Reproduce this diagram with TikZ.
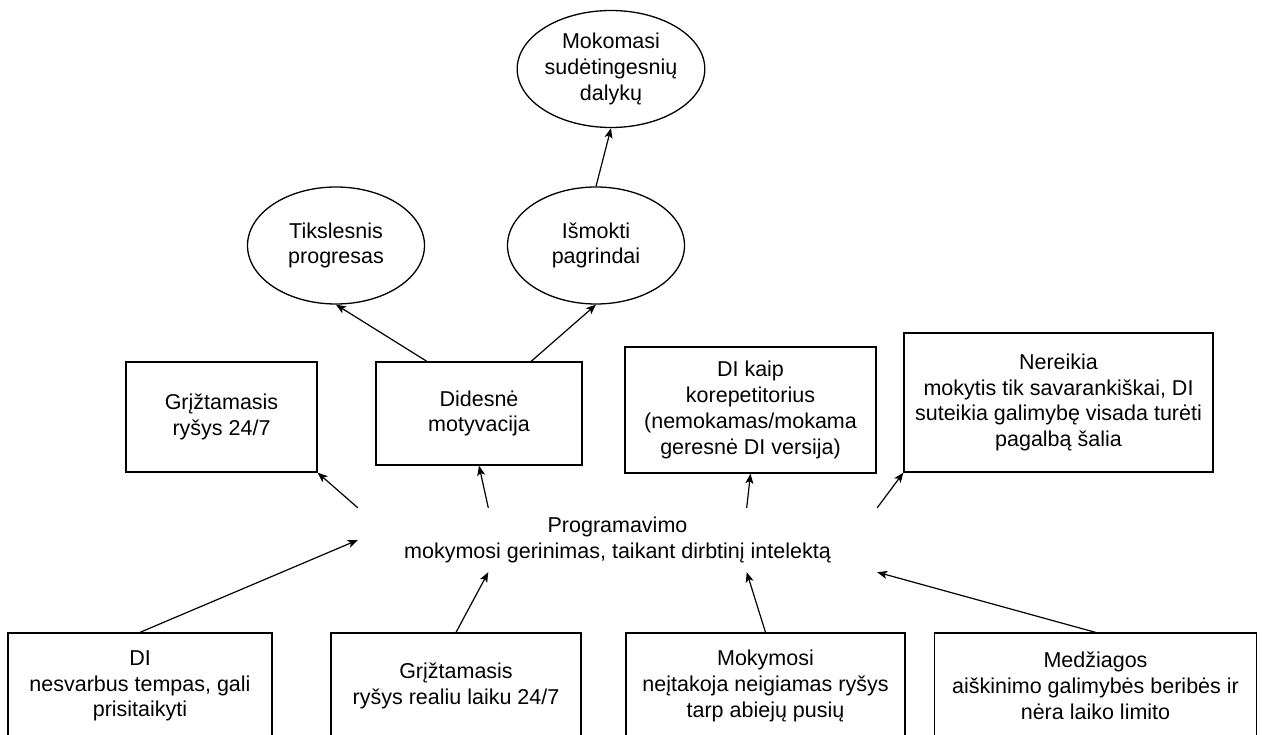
\documentclass[tikz,border=0pt]{standalone}
\usepackage{fontspec}
\setmainfont{Liberation Sans}
\usetikzlibrary{arrows.meta,shapes.geometric}

\begin{document}
\begin{tikzpicture}[x=1pt, y=-1pt,
	txt/.style  = {font=\fontsize{21.5}{25.8}\selectfont, align=center, inner sep=0pt},
	rec/.style  = {txt, draw, rectangle, line width=1.3pt},
	ell/.style  = {txt, draw, ellipse, line width=1.3pt, minimum width=177pt, minimum height=117pt},
	hub/.style  = {txt, rectangle, minimum width=519pt, minimum height=64pt},
	link/.style = {->, line width=1.2pt},
	>={Stealth[length=10pt, width=8pt, inset=2.5pt]}]

	\useasboundingbox (0,0) rectangle (1262,735);

	% goals on top, ellipses
	\node[ell] (adv) at (611,69) {Mokomasi\\sudėtingesnių\\dalykų};
	\node[ell] (prog) at (336,245.5) {Tikslesnis\\progresas};
	\node[ell] (basics) at (596,245.5) {Išmokti\\pagrindai};

	% benefits, upper row
	\node[rec, minimum width=191pt, minimum height=110pt] (fb) at (221.5,417) {Grįžtamasis\\ryšys 24/7};
	\node[rec, minimum width=206pt, minimum height=103pt] (mot) at (479,413.5) {Didesnė\\motyvacija};
	\node[rec, minimum width=251pt, minimum height=126pt] (tutor) at (750.5,410) {DI kaip\\korepetitorius\\(nemokamas/mokama\\geresnė DI versija)};
	\node[rec, minimum width=309pt, minimum height=139pt] (help) at (1058.5,402.5) {Nereikia\\mokytis tik savarankiškai, DI\\suteikia galimybę visada turėti\\pagalbą šalia};

	% the central topic
	\node[hub] (hub) at (617.5,540) {Programavimo\\mokymosi gerinimas, taikant dirbtinį intelektą};

	% causes, lower row (cut by the page edge)
	\node[rec, minimum width=264pt, minimum height=106pt] (b1) at (140,686) {DI\\nesvarbus tempas, gali\\prisitaikyti};
	\node[rec, minimum width=250pt, minimum height=106pt] (b2) at (456,686) {Grįžtamasis\\ryšys realiu laiku 24/7};
	\node[rec, minimum width=279pt, minimum height=106pt] (b3) at (765.5,686) {Mokymosi\\neįtakoja neigiamas ryšys\\tarp abiejų pusių};
	\node[rec, minimum width=322pt, minimum height=106pt] (b4) at (1095.5,686) {Medžiagos\\aiškinimo galimybės beribės ir\\nėra laiko limito};

	% lower row into the topic
	\foreach \src/\dst in {b1/west, b2/194, b3/346, b4/south east}
	\draw[link] (\src.north) -- (hub.\dst);

	% topic out to the upper row
	\foreach \from/\dst in {north west/fb.south east, 166/mot.south, 14/tutor.south, north east/help.south west}
	\draw[link] (hub.\from) -- (\dst);

	% motivation to the goals
	\draw[link] (mot.135) -- (prog.south);
	\draw[link] (mot.45) -- (basics.south);
	\draw[link] (basics.north) -- (adv.south);
\end{tikzpicture}
\end{document}
